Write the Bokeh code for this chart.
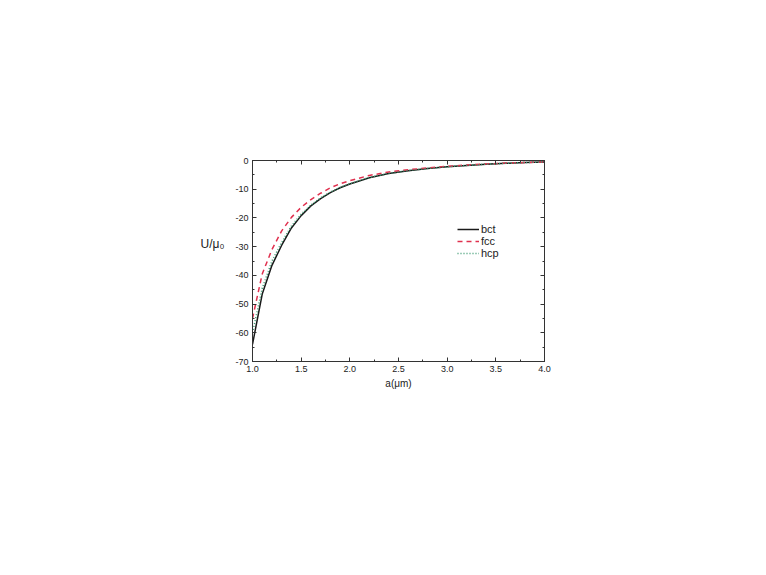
from bokeh.plotting import figure
from bokeh.models import (LinearAxis, FixedTicker, PrintfTickFormatter, Range1d,
                          Legend, LegendItem)
from bokeh.embed import file_html
from bokeh.resources import INLINE

a_vals = [1.0, 1.1, 1.2, 1.3, 1.4, 1.5, 1.6, 1.7, 1.8, 1.9, 2.0, 2.2, 2.4, 2.6, 2.8,
          3.0, 3.2, 3.4, 3.6, 3.8, 4.0]
bct = [-64, -46.5, -36.5, -29.5, -23.5, -19.2, -15.8, -13.3, -11.2, -9.5, -8.2, -6.0,
       -4.5, -3.6, -2.8, -2.2, -1.7, -1.3, -1.0, -0.7, -0.5]
fcc = [-55, -39.5, -31, -24.5, -19.8, -16.3, -13.6, -11.4, -9.5, -8.1, -7.0, -5.2,
       -4.0, -3.2, -2.6, -2.0, -1.6, -1.2, -0.9, -0.7, -0.5]
hcp = [-60, -44.5, -35, -28.5, -22.8, -18.7, -15.5, -13.0, -11.0, -9.4, -8.1, -5.9,
       -4.5, -3.5, -2.8, -2.2, -1.7, -1.3, -1.0, -0.7, -0.5]
x_ticks = [1.0, 1.5, 2.0, 2.5, 3.0, 3.5, 4.0]
x_minor = [1.25, 1.75, 2.25, 2.75, 3.25, 3.75]
y_ticks = [0, -10, -20, -30, -40, -50, -60, -70]
y_minor = [-5, -15, -25, -35, -45, -55, -65]

FONT = "Liberation Sans"

p = figure(width=750, height=559, output_backend="svg", toolbar_location=None,
           x_range=Range1d(1.0, 4.0), y_range=Range1d(-70, 0),
           min_border_left=252, min_border_right=206, min_border_top=160,
           min_border_bottom=198, x_axis_location=None, y_axis_location=None)
p.grid.visible = False
p.outline_line_color = "#333333"
p.outline_line_width = 1
p.background_fill_color = "white"
p.border_fill_color = "white"


def style_axis(ax, ticks, minor, show_labels):
    ax.ticker = FixedTicker(ticks=ticks, minor_ticks=minor)
    ax.major_tick_in = 4
    ax.major_tick_out = 0
    ax.minor_tick_in = 2
    ax.minor_tick_out = 0
    ax.axis_line_color = "#333333"
    ax.major_tick_line_color = "#333333"
    ax.minor_tick_line_color = "#333333"
    ax.major_label_text_font = FONT
    ax.major_label_text_font_size = "9px"
    ax.major_label_text_color = "#222222" if show_labels else None
    ax.major_label_standoff = 4


xb = LinearAxis(formatter=PrintfTickFormatter(format="%.1f"))
style_axis(xb, x_ticks, x_minor, True)
xb.axis_label = "a(μm)"
xb.axis_label_text_font = FONT
xb.axis_label_text_font_style = "normal"
xb.axis_label_text_font_size = "10px"
xb.axis_label_text_color = "#222222"
xb.axis_label_standoff = 3
p.add_layout(xb, "below")

xt = LinearAxis()
style_axis(xt, x_ticks, x_minor, False)
p.add_layout(xt, "above")

yl = LinearAxis(formatter=PrintfTickFormatter(format="%d"))
style_axis(yl, y_ticks, y_minor, True)
yl.axis_label = "U/μ₀\n\n"
yl.axis_label_orientation = "horizontal"
yl.axis_label_text_font = FONT
yl.axis_label_text_font_style = "normal"
yl.axis_label_text_font_size = "12px"
yl.axis_label_text_color = "#222222"
yl.axis_label_standoff = 8
p.add_layout(yl, "left")

yr = LinearAxis()
style_axis(yr, y_ticks, y_minor, False)
p.add_layout(yr, "right")

r_bct = p.line(a_vals, bct, line_color="#1a1a1a", line_width=1.5)
r_fcc = p.line(a_vals, fcc, line_color="#e0304e", line_width=1.5, line_dash="5 4")
r_hcp = p.line(a_vals, hcp, line_color="#3a9a70", line_width=1.5, line_dash="1 2")

legend = Legend(items=[LegendItem(label="bct", renderers=[r_bct]),
                       LegendItem(label="fcc", renderers=[r_fcc]),
                       LegendItem(label="hcp", renderers=[r_hcp])],
                location=(205, 102), border_line_color=None,
                background_fill_alpha=0, padding=0, margin=0, spacing=0,
                glyph_width=22, glyph_height=12, label_height=12,
                label_standoff=2, label_text_font=FONT,
                label_text_font_size="11px", label_text_color="#222222")
p.add_layout(legend, "center")

open("out.html", "w").write(file_html(p, INLINE))
